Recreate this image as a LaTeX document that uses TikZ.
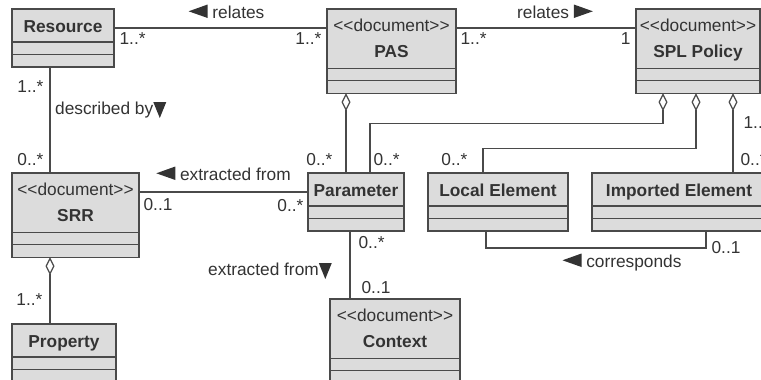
\documentclass[tikz,border=0pt]{standalone}
\usepackage{fontspec}
\setmainfont{Liberation Sans}
\usepackage{tikz}
\usetikzlibrary{arrows.meta, positioning}

\definecolor{boxgray}{HTML}{DCDCDC}
\definecolor{linegray}{HTML}{4A4A4A}
\definecolor{textgray}{HTML}{333333}

% class headers: plain name, or stereotype above the name
% (the rules also reserve the two empty compartments below)
\newcommand{\stereo}{<\kern0pt<document>\kern0pt>}
\newcommand{\clsname}[1]{\rule[-35pt]{0pt}{58pt}\textbf{#1}}
\newcommand{\docname}[1]{{\renewcommand\arraystretch{0}%
  \begin{tabular}{@{}c@{}}\rule{0pt}{22pt}\stereo\\ \rule[-36pt]{0pt}{62pt}\textbf{#1}\end{tabular}}}

% reading direction marks
\newcommand{\tril}{\tikz[x=1pt,y=1pt,baseline=0pt]\fill[textgray] (0,6.7) -- (19,13.5) -- (19,0) -- cycle;}
\newcommand{\trir}{\tikz[x=1pt,y=1pt,baseline=0pt]\fill[textgray] (19,6.7) -- (0,13.5) -- (0,0) -- cycle;}
\newcommand{\trid}{\tikz[x=1pt,y=1pt,baseline=0pt]\fill[textgray] (0,12) -- (13,12) -- (6.5,-4) -- cycle;}

\begin{document}
\begin{tikzpicture}[x=1pt, y=-1pt, font=\fontsize{17.3}{19}\selectfont, text=textgray,
    umlclass/.style={draw=linegray, fill=boxgray, line width=1.3pt, inner sep=0pt, outer sep=0pt,
      anchor=north west,
      path picture={
        \draw[linegray, line width=1.3pt]
          ([yshift=12.5pt]path picture bounding box.south west) -- ([yshift=12.5pt]path picture bounding box.south east)
          ([yshift=25pt]path picture bounding box.south west) -- ([yshift=25pt]path picture bounding box.south east);
      }},
    assoc/.style={draw=linegray, line width=1.2pt},
    aggr/.style={assoc, {Diamond[open, length=18pt, width=9pt]}-},
    mult/.style={inner sep=0pt}]
    \useasboundingbox (0,0) rectangle (761,380);

    \node[umlclass, minimum width=102pt] (resource) at (12,9) {\clsname{Resource}};
    \node[umlclass, minimum width=129pt] (pas) at (327,9) {\docname{PAS}};
    \node[umlclass, minimum width=124pt] (spl) at (636,9) {\docname{SPL Policy}};
    \node[umlclass, minimum width=127pt] (srr) at (12,173) {\docname{SRR}};
    \node[umlclass, minimum width=96pt] (param) at (308,173) {\clsname{Parameter}};
    \node[umlclass, minimum width=140pt] (local) at (428,173) {\clsname{Local Element}};
    \node[umlclass, minimum width=174pt] (imported) at (592,173) {\clsname{Imported Element}};
    \node[umlclass, minimum width=104pt] (property) at (12,324) {\clsname{Property}};
    \node[umlclass, minimum width=130pt] (context) at (330,299) {\docname{Context}};

    \draw[assoc] ([yshift=-19pt]resource.north east) -- ([yshift=-19pt]pas.north west)
        node[mult, pos=0, anchor=base west, xshift=5pt, yshift=-17pt] {1..*}
        node[mult, pos=1, anchor=base east, xshift=-5pt, yshift=-17pt] {1..*}
        node[mult, midway, anchor=base, xshift=6pt, yshift=10pt] {\tril{} relates};
    \draw[assoc] ([yshift=-19pt]pas.north east) -- ([yshift=-19pt]spl.north west)
        node[mult, pos=0, anchor=base west, xshift=4pt, yshift=-17pt] {1..*}
        node[mult, pos=1, anchor=base east, xshift=-5pt, yshift=-17pt] {1}
        node[mult, midway, anchor=base, xshift=9pt, yshift=10pt] {relates \trir};
    \draw[assoc] ([xshift=38pt]resource.south west) -- ([xshift=38pt]srr.north west)
        node[mult, pos=0, anchor=base east, xshift=-6pt, yshift=-25pt] {1..*}
        node[mult, pos=0, anchor=base west, xshift=5pt, yshift=-47pt] {described by\trid}
        node[mult, pos=1, anchor=base east, xshift=-6pt, yshift=8pt] {0..*};
    \draw[aggr] ([xshift=38pt]srr.south west) -- ([xshift=38pt]property.north west)
        node[mult, pos=1, anchor=base east, xshift=-7pt, yshift=19pt] {1..*};
    \draw[assoc] ([yshift=-19pt]srr.north east) -- ([yshift=-19pt]param.north west)
        node[mult, pos=0, anchor=base west, xshift=4pt, yshift=-18pt] {0..1}
        node[mult, pos=1, anchor=base east, xshift=-4pt, yshift=-19pt] {0..*}
        node[mult, midway, anchor=base, yshift=12pt] {\tril{} extracted from};

    % aggregations of the policy documents
    \draw[aggr] ([xshift=19pt]pas.south west) -- ([xshift=38pt]param.north west)
        node[mult, pos=1, anchor=base east, xshift=-13pt, yshift=8pt] {0..*};
    \draw[aggr] ([xshift=27pt]spl.south west) -- ++(0,30) -| ([xshift=62pt]param.north west)
        node[mult, pos=1, anchor=base west, xshift=3pt, yshift=8pt] {0..*};
    \draw[aggr] ([xshift=60pt]spl.south west) -- ++(0,55) -| ([xshift=55pt]local.north west)
        node[mult, pos=1, anchor=base east, xshift=-15pt, yshift=8pt] {0..*};
    \draw[aggr] ([xshift=97pt]spl.south west) -- ([xshift=141pt]imported.north west)
        node[mult, pos=0, anchor=base west, xshift=10pt, yshift=-35pt] {1..*}
        node[mult, pos=1, anchor=base west, xshift=7pt, yshift=8pt] {0..*};

    \draw[assoc] ([xshift=42pt]param.south west) -- ([xshift=20pt]context.north west)
        node[mult, pos=0, anchor=base west, xshift=8pt, yshift=-17pt] {0..*}
        node[mult, midway, anchor=base east, xshift=-18pt, yshift=-10pt] {extracted from\trid}
        node[mult, pos=1, anchor=base west, xshift=11pt, yshift=6pt] {0..1};
    \draw[assoc] ([xshift=58pt]local.south west) -- ++(0,17) -| ([xshift=114pt]imported.south west)
        node[mult, pos=0.25, anchor=base, xshift=26pt, yshift=-19pt] {\tril{} corresponds}
        node[mult, pos=1, anchor=base west, xshift=5pt, yshift=-22pt] {0..1};
\end{tikzpicture}
\end{document}
